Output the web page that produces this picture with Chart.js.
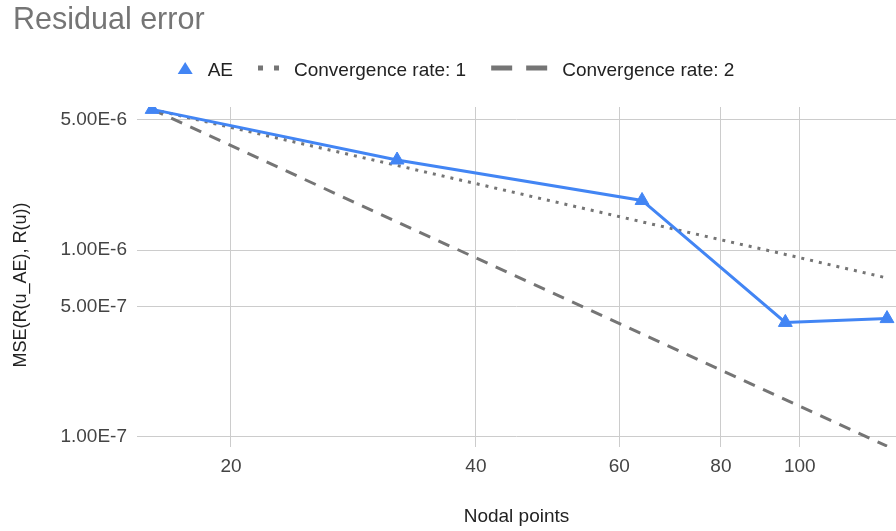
<!DOCTYPE html>
<html>
<head>
<meta charset="utf-8">
<title>Residual error</title>
<script src="https://cdn.jsdelivr.net/npm/chart.js"></script>
<style>
  html, body { margin: 0; padding: 0; background: #fff; }
  #chart-container { position: relative; width: 896px; height: 531px; }
</style>
</head>
<body>
<div id="chart-container"><canvas id="residual-chart"></canvas></div>
<script>
// values (log-log)
const nodalPoints = [16, 32, 64, 96, 128];
const aeError = [5.7e-6, 3.05e-6, 1.85e-6, 4.1e-7, 4.3e-7];
const rateOne = [5.7e-6, 2.85e-6, 1.42e-6, 9.5e-7, 7.1e-7];
const rateTwo = [5.7e-6, 1.42e-6, 3.56e-7, 1.58e-7, 8.9e-8];
const seriesLabels = ['AE', 'Convergence rate: 1', 'Convergence rate: 2'];
const xTicks = [20, 40, 60, 80, 100];
const yTicks = [1e-7, 5e-7, 1e-6, 5e-6];
const yTitle = 'MSE(R(u_AE), R(u))';

const FONT = '"Liberation Sans", Arial, sans-serif';
const BLUE = '#4285f4', GREY = '#757575';

Chart.defaults.font.family = FONT;
Chart.defaults.font.size = 19;

function toPoints(values) {
  return nodalPoints.map(function(x, i) { return {x: x, y: values[i]}; });
}

// little icons for the legend row
const legendIcons = {
  triangle: { width: 15, draw: function(ctx, x, y) {
    ctx.fillStyle = BLUE;
    ctx.beginPath();
    ctx.moveTo(x, y + 6);
    ctx.lineTo(x + 15, y + 6);
    ctx.lineTo(x + 7.5, y - 6);
    ctx.closePath();
    ctx.fill();
  }},
  dots: { width: 21, draw: function(ctx, x, y) {
    ctx.fillStyle = GREY;
    ctx.fillRect(x, y - 2.5, 5, 5);
    ctx.fillRect(x + 16, y - 2.5, 5, 5);
  }},
  dashes: { width: 56, draw: function(ctx, x, y) {
    ctx.fillStyle = GREY;
    ctx.fillRect(x, y - 2.5, 21, 5);
    ctx.fillRect(x + 35, y - 2.5, 21, 5);
  }}
};

// legend row + vertical axis title, placed like the original
const chartLabels = {
  id: 'chartLabels',
  afterDraw: function(chart) {
    let ctx = chart.ctx;
    let items = chart.data.datasets.map(function(ds) {
      return { text: ds.label, icon: legendIcons[ds.legendIcon] };
    });
    ctx.save();
    ctx.font = '19px ' + FONT;
    let total = 0;
    items.forEach(function(it, i) {
      it.textWidth = ctx.measureText(it.text).width;
      total += it.icon.width + 15 + it.textWidth + (i > 0 ? 25 : 0);
    });
    let x = chart.width / 2 + 8 - total / 2;
    items.forEach(function(it) {
      it.icon.draw(ctx, x, 68);
      x += it.icon.width + 15;
      ctx.fillStyle = '#222';
      ctx.textBaseline = 'alphabetic';
      ctx.fillText(it.text, x, 76);
      x += it.textWidth + 25;
    });

    ctx.font = '18px ' + FONT;
    ctx.translate(21, 285);
    ctx.rotate(-Math.PI / 2);
    ctx.textAlign = 'center';
    ctx.textBaseline = 'middle';
    ctx.fillText(yTitle, 0, 0);
    ctx.restore();
  }
};

let chart = new Chart(document.getElementById('residual-chart'), {
  type: 'line',
  data: {
    datasets: [
      {
        label: seriesLabels[0],
        legendIcon: 'triangle',
        data: toPoints(aeError),
        borderColor: BLUE,
        backgroundColor: BLUE,
        borderWidth: 3,
        pointStyle: 'triangle',
        pointRadius: 8,
        pointBorderWidth: 1,
        clip: 0
      },
      {
        label: seriesLabels[1],
        legendIcon: 'dots',
        data: toPoints(rateOne),
        borderColor: GREY,
        borderWidth: 3,
        borderDash: [3, 6],
        pointRadius: 0,
        clip: 0
      },
      {
        label: seriesLabels[2],
        legendIcon: 'dashes',
        data: toPoints(rateTwo),
        borderColor: GREY,
        borderWidth: 3,
        borderDash: [12, 9],
        pointRadius: 0,
        clip: 0
      }
    ]
  },
  options: {
    responsive: true,
    maintainAspectRatio: false,
    animation: false,
    layout: { autoPadding: false, padding: { left: 13, right: 0, top: 0, bottom: 0 } },
    plugins: {
      legend: { display: false },
      tooltip: { enabled: false },
      title: {
        display: true,
        text: 'Residual error',
        align: 'start',
        color: GREY,
        font: { size: 30.5, weight: 'normal', lineHeight: 1 },
        padding: { top: 5, bottom: 71.5 }
      }
    },
    scales: {
      x: {
        type: 'logarithmic',
        min: 15.33,
        max: 131.3,
        afterBuildTicks: function(scale) {
          scale.ticks = xTicks.map(function(v) { return {value: v}; });
        },
        afterFit: function(scale) { scale.height = 84; },
        ticks: {
          color: '#444',
          padding: 0,
          autoSkip: false,
          maxRotation: 0,
          callback: function(v) { return String(v); }
        },
        grid: { color: '#cccccc', lineWidth: 1, drawTicks: true, tickLength: 8, tickColor: 'rgba(0,0,0,0)' },
        border: { display: false },
        title: {
          display: true,
          text: 'Nodal points',
          color: '#222',
          padding: { top: 0, bottom: 3 }
        }
      },
      y: {
        type: 'logarithmic',
        min: 8.8e-8,
        max: 5.87e-6,
        afterBuildTicks: function(scale) {
          scale.ticks = yTicks.map(function(v) { return {value: v}; });
        },
        afterFit: function(scale) { scale.width = 124; },
        ticks: {
          color: '#444',
          padding: 10,
          autoSkip: false,
          callback: function(v) { return Number(v).toExponential(2).toUpperCase(); }
        },
        grid: { color: '#cccccc', lineWidth: 1, drawTicks: false },
        border: { display: false }
      }
    }
  },
  plugins: [chartLabels]
});
</script>
</body>
</html>
